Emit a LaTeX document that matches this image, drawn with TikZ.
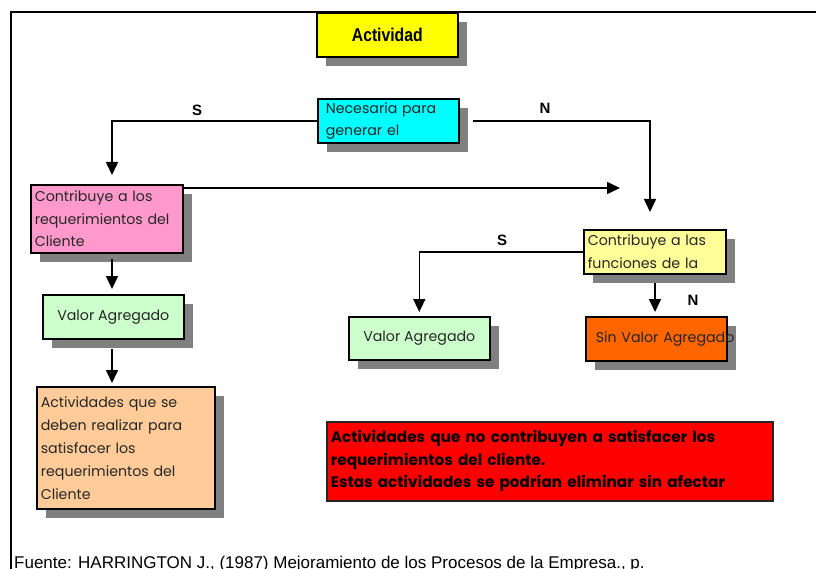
\documentclass[tikz,border=0pt]{standalone}
\usepackage{fontspec}
\setmainfont{Liberation Sans}
\newfontfamily\gothic{Poppins}
\newfontfamily\narrowf[FakeStretch=0.85]{Liberation Sans}
\usetikzlibrary{arrows.meta,shadows}
\definecolor{shadowgray}{HTML}{808080}
\definecolor{cyanfill}{RGB}{0,255,255}
\definecolor{pinkfill}{RGB}{255,153,204}
\definecolor{greenfill}{RGB}{204,255,204}
\definecolor{peachfill}{RGB}{255,204,153}
\definecolor{lightyellow}{RGB}{255,255,153}
\definecolor{orangefill}{RGB}{255,102,0}
\definecolor{redfill}{RGB}{255,0,0}
\definecolor{yellowfill}{RGB}{255,255,0}
\tikzset{
  box/.style={draw=black, line width=1.6pt, anchor=north west, inner xsep=4pt, inner ysep=0pt,
    font=\gothic\fontsize{14.2}{22.5}\selectfont, text=black!85,
    drop shadow={shadow xshift=9pt, shadow yshift=-9pt, fill=shadowgray, opacity=1}},
  conn/.style={line width=1.6pt, -{Triangle[width=12pt,length=13pt]}},
  lbl/.style={font=\bfseries\fontsize{15}{17}\selectfont}
}
\begin{document}
\begin{tikzpicture}[x=1pt,y=-1pt]
\useasboundingbox (0,0) rectangle (816,569);
\draw[line width=2pt] (11,570) -- (11,12) -- (817,12);
% boxes
\node[box, fill=yellowfill, minimum width=141pt, minimum height=44pt, font=\narrowf\bfseries\fontsize{18.5}{20}\selectfont, text=black] (act) at (316,12) {Actividad};
\node[box, fill=cyanfill, minimum width=141pt, minimum height=44pt, inner xsep=8pt, text width=125pt, align=left] (nec) at (317,98) {Necesaria para\\generar el};
\node[box, fill=pinkfill, minimum width=152pt, minimum height=68pt, text width=144pt, align=left] (pink) at (30,184) {Contribuye a los\\requerimientos del\\Cliente};
\node[box, fill=greenfill, minimum width=141pt, minimum height=44pt] (va1) at (42,294) {Valor Agregado};
\node[box, fill=peachfill, minimum width=178pt, minimum height=122pt, text width=170pt, align=left, font=\gothic\fontsize{14.2}{23}\selectfont] (act2) at (36,386) {Actividades que se\\deben realizar para\\satisfacer los\\requerimientos del\\Cliente};
\node[box, fill=lightyellow, minimum width=142pt, minimum height=44pt, text width=134pt, align=left] (fun) at (583,229) {Contribuye a las\\funciones de la};
\node[box, fill=greenfill, minimum width=141pt, minimum height=43pt] (va2) at (348,316) {Valor Agregado};
\node[box, fill=orangefill, minimum width=141pt, minimum height=44pt, text width=133pt, align=left] (sva) at (585,316) {\hspace*{6pt}\makebox[0pt][l]{Sin Valor Agregado}};
\node[draw=black!85, line width=1.6pt, fill=redfill, anchor=north west, minimum width=446pt, minimum height=79pt, inner xsep=4pt, text width=438pt, align=left, font=\gothic\bfseries\fontsize{15.3}{22.5}\selectfont] (red) at (326,421) {Actividades que no contribuyen a satisfacer los\\requerimientos del cliente.\\Estas actividades se podrían eliminar sin afectar};
% coordinates
\coordinate (s1) at (112,175);
\coordinate (n1) at (650,212);
\coordinate (p2) at (620,188);
\coordinate (v1) at (112,259);
\coordinate (v2) at (112,349);
\coordinate (f1) at (655,283);
% connectors
\draw[conn] (nec.west) -| (s1);
\draw[conn] ([xshift=13pt]nec.east) -| (n1);
\draw[conn] (pink.east |- p2) -- (p2);
\draw[conn, shorten >=5pt] (v1) -- (v1 |- va1.north);
\draw[conn, shorten >=3pt] (v2) -- (v2 |- act2.north);
\draw[conn, shorten >=4pt] (fun.west) -| (va2.north);
\draw[conn, shorten >=4pt] (f1) -- (f1 |- sva.north);
% labels
\node[lbl] (ls1) at (197,110) {S};
\node[lbl] (ln1) at (545,108) {N};
\node[lbl] (ls2) at (502,240) {S};
\node[lbl] (ln2) at (693,300) {N};
\node[anchor=base west, inner sep=0pt, font=\fontsize{17}{19}\selectfont] (src) at (14,568.5) {Fuente: HARRINGTON J., (1987) Mejoramiento de los Procesos de la Empresa., p.};
\end{tikzpicture}
\end{document}
